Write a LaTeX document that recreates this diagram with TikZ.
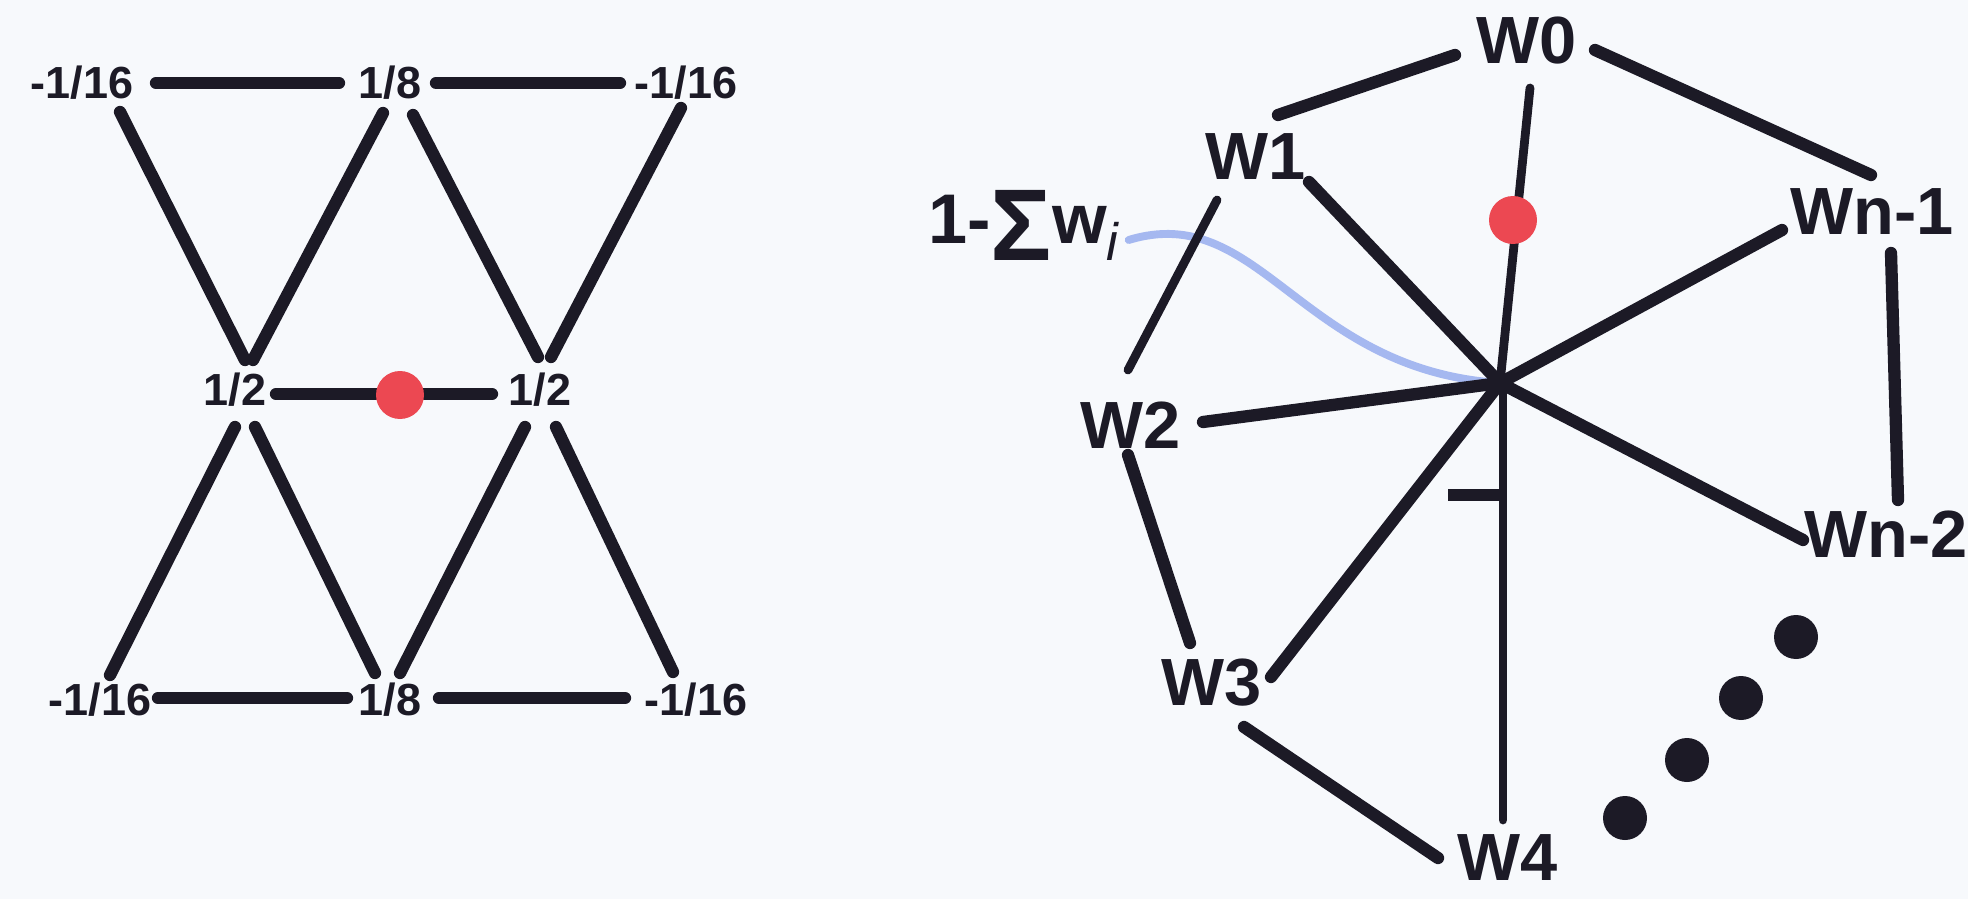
\documentclass[tikz,border=0pt]{standalone}
\usepackage{fontspec}
\setmainfont{Liberation Sans}
\usetikzlibrary{calc}
\definecolor{ink}{RGB}{28,26,38}
\definecolor{bg}{RGB}{247,249,252}
\definecolor{dotred}{RGB}{236,72,82}
\definecolor{curveblue}{RGB}{165,184,240}
\begin{document}
\begin{tikzpicture}[x=0.02cm,y=-0.02cm,
  edge/.style={ink,line width=7pt,line cap=round},
  thinedge/.style={ink,line width=5pt,line cap=round},
  smalllab/.style={inner sep=0pt,text=ink,font=\fontsize{25.6}{26}\selectfont\bfseries},
  biglab/.style={inner sep=0pt,text=ink,font=\fontsize{38}{38}\selectfont\bfseries},
  reddot/.style={circle,fill=dotred,inner sep=0pt,minimum size=0.96cm},
  blackdot/.style={circle,fill=ink,inner sep=0pt,minimum size=0.88cm}]
\fill[bg] (0,0) rectangle (1968,899);
\useasboundingbox (0,0) rectangle (1968,899);

% ---------- left diagram ----------
\node[smalllab] (tl) at (82,83) {-1/16};
\node[smalllab] (t8) at (390,83) {1/8};
\node[smalllab] (tr) at (686,83) {-1/16};
\node[smalllab] (hl) at (235,390) {1/2};
\node[smalllab] (hr) at (540,390) {1/2};
\node[smalllab] (bl) at (100,700) {-1/16};
\node[smalllab] (b8) at (390,700) {1/8};
\node[smalllab] (br) at (696,700) {-1/16};

\draw[edge] ($(tl)+(74,0)$) -- ($(t8)+(-51,0)$);
\draw[edge] ($(t8)+(46,0)$) -- ($(tr)+(-66,0)$);
\draw[edge] ($(tl)+(38,29)$) -- ($(hl)+(10,-30)$);
\draw[edge] ($(t8)+(-7,30)$) -- ($(hl)+(18,-30)$);
\draw[edge] ($(t8)+(23,32)$) -- ($(hr)+(-2,-33)$);
\draw[edge] ($(tr)+(-5,25)$) -- ($(hr)+(11,-33)$);
\draw[edge] ($(hl)+(41,4)$) -- ($(hr)+(-48,4)$);
\draw[edge] ($(hl)+(0,37)$) -- ($(bl)+(10,-25)$);
\draw[edge] ($(hl)+(20,37)$) -- ($(b8)+(-15,-27)$);
\draw[edge] ($(hr)+(-15,37)$) -- ($(b8)+(10,-27)$);
\draw[edge] ($(hr)+(16,37)$) -- ($(br)+(-23,-28)$);
\draw[edge] ($(bl)+(58,-2)$) -- ($(b8)+(-43,-2)$);
\draw[edge] ($(b8)+(49,-2)$) -- ($(br)+(-71,-2)$);
\node[reddot] (d1) at (400,395) {};

% ---------- right diagram ----------
\coordinate (c) at (1500,383);
\node[biglab] (w0) at (1527,41) {W0};
\node[biglab] (w1) at (1256,157) {W1};
\node[biglab] (wn1) at (1872,212) {Wn-1};
\node[biglab] (w2) at (1131,425) {W2};
\node[biglab] (wn2) at (1886,534) {Wn-2};
\node[biglab] (w3) at (1212,683) {W3};
\node[biglab] (w4) at (1508,858) {W4};
\node[anchor=base west,inner sep=0pt,text=ink,font=\fontsize{40}{40}\selectfont\bfseries] (sum) at (928,243)
  {1-\raisebox{-10pt}{\fontsize{58}{58}\selectfont Σ}w\raisebox{-10pt}{\fontsize{30}{30}\selectfont\mdseries\itshape i}};

\draw[curveblue,line width=4.5pt,line cap=round] ($(sum.base east)+(10,-3)$)
  .. controls (1260,200) and (1300,370) .. (c);

\draw[edge] ($(w1)+(22,-42)$) -- ($(w0)+(-72,14)$);
\draw[edge] ($(w0)+(68,9)$) -- ($(wn1)+(-1,-37)$);
\draw[thinedge] ($(w0)+(3,47)$) -- (c);
\draw[edge] ($(w1)+(53,25)$) -- (c);
\draw[thinedge] ($(w1)+(-39,43)$) -- ($(w2)+(-3,-55)$);
\draw[edge] ($(w2)+(72,-3)$) -- (c);
\draw[edge] ($(wn1)+(-90,18)$) -- (c);
\draw[edge] ($(wn1)+(19,41)$) -- ($(wn2)+(12,-34)$);
\draw[edge] (c) -- ($(wn2)+(-83,6)$);
\draw[edge] ($(w2)+(-3,30)$) -- ($(w3)+(-22,-40)$);
\draw[edge] (c) -- ($(w3)+(59,-6)$);
\draw[thinedge] ($(c)+(3,0)$) -- ($(w4)+(-5,-38)$);
\coordinate (tick) at (1503,495);
\draw[ink,line width=7pt] (tick) -- ++(-55,0);
\draw[edge] ($(w3)+(32,44)$) -- ($(w4)+(-70,0)$);
\node[reddot] (d2) at (1513,220) {};

\node[blackdot] (k1) at (1796,637) {};
\node[blackdot] (k2) at (1741,698) {};
\node[blackdot] (k3) at (1687,760) {};
\node[blackdot] (k4) at (1625,818) {};
\end{tikzpicture}
\end{document}
